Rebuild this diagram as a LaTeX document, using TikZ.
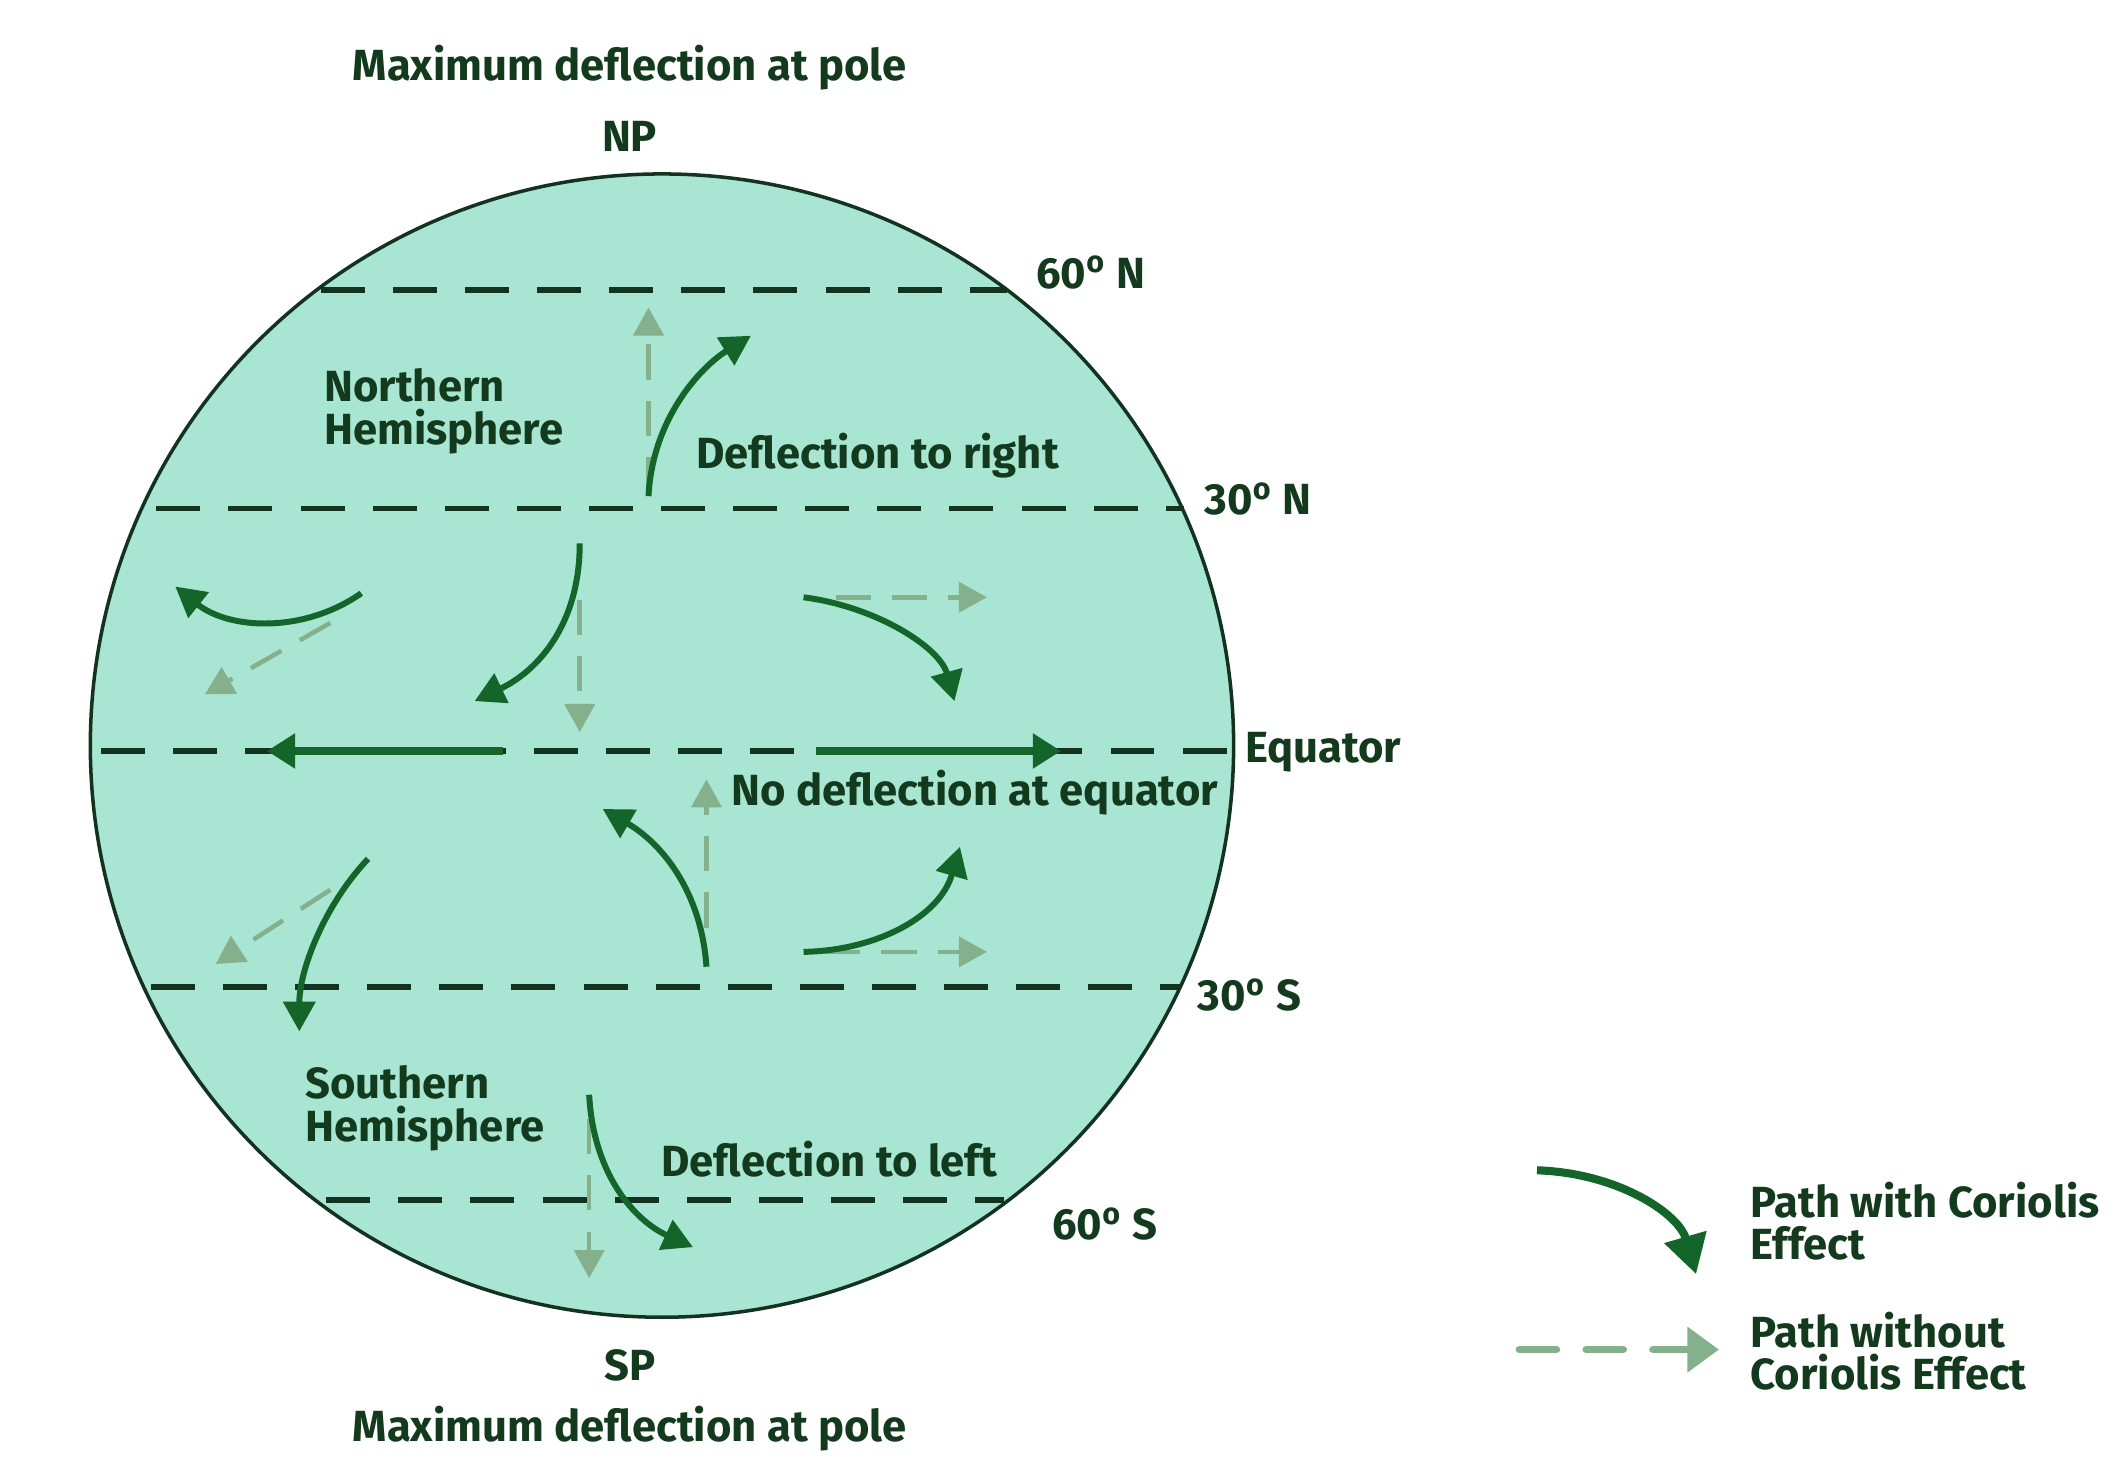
\documentclass[tikz,border=0pt]{standalone}
\usepackage{fontspec}
\setmainfont{Fira Sans}
\usetikzlibrary{arrows.meta}
\definecolor{mint}{HTML}{A8E5D3}
\definecolor{dkgreen}{HTML}{14652A}
\definecolor{ltgreen}{HTML}{84B08C}
\definecolor{txtgreen}{HTML}{133A1C}
\definecolor{linegreen}{HTML}{14331F}
\begin{document}
\begin{tikzpicture}[x=0.01348cm, y=-0.01348cm,
  lat/.style={draw=linegreen, line width=1.55pt, dash pattern=on 12.5pt off 8pt},
  coriolis/.style={draw=dkgreen, line width=1.7pt, -{Triangle[length=8.5pt,width=9pt]}},
  eqarrow/.style={draw=dkgreen, line width=2.1pt, -{Triangle[length=8pt,width=9.5pt]}},
  nocor/.style={draw=ltgreen, line width=1.3pt, dash pattern=on 10pt off 6pt, -{Triangle[length=8pt,width=8.5pt]}},
  lbl/.style={text=txtgreen, font=\fontsize{12.4}{12}\selectfont\bfseries, inner sep=0pt, align=left}]
\useasboundingbox (0,0) rectangle (1568,1084);
% globe
\draw[fill=mint, draw=linegreen, line width=1pt] (491,553) circle [radius=424];
% latitude lines
\draw[lat] (238,215) -- (747,215);
\draw[lat] (116,377) -- (878,377);
\draw[lat] (75,557) -- (912,557);
\draw[lat] (112,732) -- (875,732);
\draw[lat] (242,890) -- (745,890);
% paths without Coriolis effect
\draw[nocor] (481,365) -- (481,228);
\draw[nocor] (245,462) -- (152,515);
\draw[nocor] (430,445) -- (430,543);
\draw[nocor] (620,443) -- (732,443);
\draw[nocor] (245,660) -- (160,715);
\draw[nocor] (524,688) -- (524,578);
\draw[nocor] (612,706) -- (732,706);
\draw[nocor] (437,830) -- (437,948);
% paths with Coriolis effect
\draw[coriolis] (481,368) .. controls (484,310) and (520,272) .. (557,249);
\draw[coriolis] (268,440) .. controls (225,470) and (170,467) .. (130,435);
\draw[coriolis] (430,403) .. controls (430,462) and (400,497) .. (352,520);
\draw[coriolis] (596,443) .. controls (650,450) and (697,480) .. (708,520);
\draw[eqarrow] (373,557) -- (198,557);
\draw[eqarrow] (605,557) -- (787,557);
\draw[coriolis] (273,637) .. controls (240,672) and (222,720) .. (222,765);
\draw[coriolis] (524,717) .. controls (520,660) and (490,625) .. (447,600);
\draw[coriolis] (596,706) .. controls (650,705) and (697,680) .. (712,628);
\draw[coriolis] (437,812) .. controls (440,870) and (470,905) .. (514,925);
% legend
\draw[draw=dkgreen, line width=2.3pt, -{Triangle[length=11pt,width=12pt]}] (1140,868) .. controls (1200,870) and (1245,900) .. (1258,945);
\draw[draw=ltgreen, line width=2.2pt, line cap=round, dash pattern=on 10.5pt off 8.5pt, -{Triangle[length=9pt,width=12.5pt]}] (1127,1001) -- (1275,1001);
% labels
\node[lbl] (maxn) at (467,50) {Maximum deflection at pole};
\node[lbl] (np) at (467,101) {NP};
\node[lbl] (sp) at (467,1013) {SP};
\node[lbl] (maxs) at (467,1060) {Maximum deflection at pole};
\node[lbl, anchor=west] (lat60n) at (768,202) {60\textsuperscript{o} N};
\node[lbl, anchor=west] (lat30n) at (893,370) {30\textsuperscript{o} N};
\node[lbl, anchor=west] (eq) at (923,558) {Equator};
\node[lbl, anchor=west] (lat30s) at (888,738) {30\textsuperscript{o} S};
\node[lbl, anchor=west] (lat60s) at (780,908) {60\textsuperscript{o} S};
\node[lbl, anchor=west] (nh) at (240,305) {Northern\\Hemisphere};
\node[lbl, anchor=west] (dright) at (516,338) {Deflection to right};
\node[lbl, anchor=west] (nodef) at (542,588) {No deflection at equator};
\node[lbl, anchor=west] (sh) at (226,822) {Southern\\Hemisphere};
\node[lbl, anchor=west] (dleft) at (490,860) {Deflection to left};
\node[lbl, anchor=west] (lg1) at (1298,906) {Path with Coriolis\\Effect};
\node[lbl, anchor=west] (lg2) at (1298,1002) {Path without\\Coriolis Effect};
\end{tikzpicture}
\end{document}
